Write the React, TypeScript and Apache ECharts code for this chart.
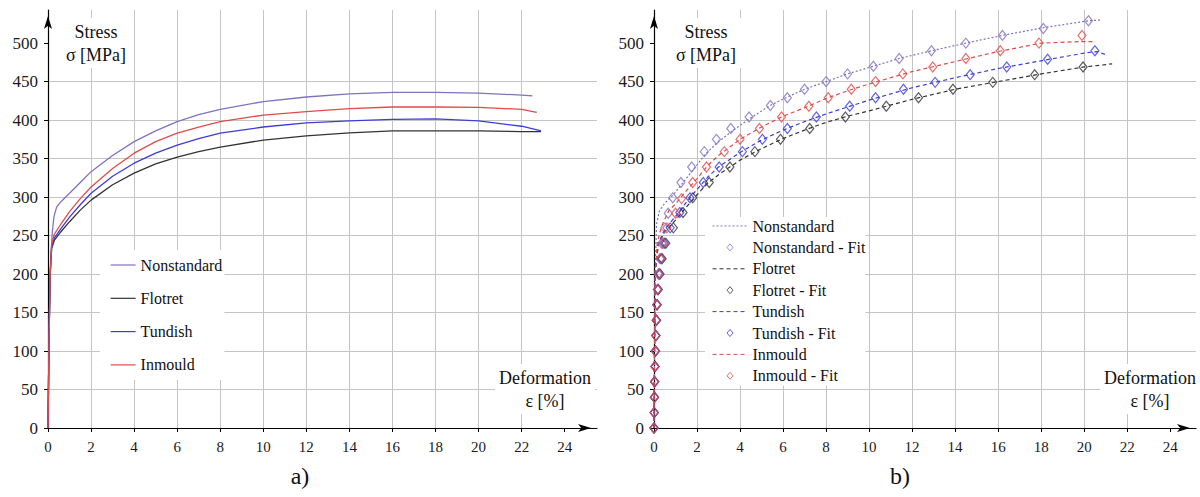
import React, { useEffect, useRef } from 'react';
import * as echarts from 'echarts';

// ---- tick labels ----
const xTicks = [0, 2, 4, 6, 8, 10, 12, 14, 16, 18, 20, 22, 24];
const yTicks = [0, 50, 100, 150, 200, 250, 300, 350, 400, 450, 500];

// ---- a) measured curves ----
const nsStrainA = [0, 0.05, 0.12, 0.2, 0.28, 0.4, 0.6, 1, 1.5, 2, 3, 4, 5, 6, 7, 8, 10, 12, 14, 16, 18, 20, 22, 22.5];
const nsStressA = [0, 120, 215, 255, 275, 287, 294, 305, 319, 333, 354, 372, 386, 398, 407, 414, 424, 430, 434, 436, 436, 435, 432.5, 431.5];
const flStrainA = [0, 0.05, 0.1, 0.17, 0.3, 0.6, 1, 1.5, 2, 3, 4, 5, 6, 7, 8, 10, 12, 14, 16, 18, 20, 22, 22.9];
const flStressA = [0, 120, 200, 233, 244, 255, 268, 283, 296, 316, 331, 343, 352, 359, 365, 374, 379.5, 383.5, 386, 386, 386, 385, 385];
const tdStrainA = [0, 0.05, 0.1, 0.17, 0.3, 0.6, 1, 1.5, 2, 3, 4, 5, 6, 7, 8, 10, 12, 14, 16, 18, 20, 22, 22.9];
const tdStressA = [0, 120, 200, 235, 247, 259, 274, 290, 305, 327, 344, 357, 367.5, 376, 383, 391, 396.5, 399, 401, 401.5, 399, 392, 386];
const imStrainA = [0, 0.05, 0.1, 0.17, 0.3, 0.6, 1, 1.5, 2, 3, 4, 5, 6, 7, 8, 10, 12, 14, 16, 18, 20, 22, 22.7];
const imStressA = [0, 120, 200, 240, 252, 265, 281, 298, 313, 337, 357, 372, 383, 391, 398, 406.5, 411, 415, 417, 417, 416.5, 414, 410];

// ---- b) measured curves ----
const nsStrainB = [0, 0.05, 0.12, 0.25, 0.5, 0.9, 1.3, 1.75, 2.4, 3, 3.7, 4.45, 5.4, 6.2, 7, 8, 9, 10.2, 11.4, 12.9, 14.5, 16.2, 18.1, 20.2, 20.8];
const nsStressB = [0, 200, 265, 282, 292, 303, 317, 333, 356, 372, 387, 402, 419, 430, 440, 450, 460, 470, 480, 490, 500, 510, 520, 529, 530];
const flStrainB = [0, 0.05, 0.2, 0.5, 1, 1.5, 2, 2.5, 3, 4, 5, 6, 7, 8, 9, 10, 12, 14, 16, 18, 20, 21.3];
const flStressB = [0, 200, 238, 255, 270, 287, 303, 318, 329, 348, 363, 376, 387, 397, 405, 412, 427, 440, 450, 460, 469, 473];
const tdStrainB = [0, 0.05, 0.2, 0.5, 1, 1.5, 2, 2.5, 3, 4, 5, 6, 7, 8, 9, 10, 12, 14, 16, 18, 20, 20.6, 21.1];
const tdStressB = [0, 200, 240, 258, 275, 293, 310, 326, 339, 358, 374, 387, 398, 408, 417, 426, 442, 455, 467, 477, 487, 489, 484];
const imStrainB = [0, 0.05, 0.15, 0.35, 0.7, 1, 1.5, 2, 2.5, 3, 4, 5, 6, 7, 8, 9, 10, 12, 14, 16, 18, 19.9, 20.4];
const imStressB = [0, 200, 240, 262, 283, 291, 308, 324, 341, 354, 375, 391, 405, 416, 428, 438, 447, 463, 476, 489, 500, 502, 502];

// ---- b) fit points ----
const nsFitStrain = [0, 0.01, 0.02, 0.03, 0.04, 0.06, 0.08, 0.1, 0.12, 0.15, 0.2, 0.28, 0.36, 0.5, 0.66, 0.87, 1.25, 1.75, 2.34, 2.9, 3.57, 4.42, 5.41, 6.2, 7.0, 8.0, 9.0, 10.2, 11.4, 12.9, 14.5, 16.2, 18.1, 20.2];
const nsFitStress = [0, 20, 40, 60, 80, 100, 120, 140, 160, 180, 200, 220, 240, 260, 279, 299, 319, 339, 359, 375, 389, 404, 419, 429, 440, 450, 460, 470, 480, 490, 500, 510, 519, 529];
const flFitStrain = [0, 0.01, 0.02, 0.03, 0.05, 0.07, 0.09, 0.12, 0.15, 0.2, 0.28, 0.38, 0.55, 0.9, 1.35, 1.8, 2.57, 3.53, 4.69, 5.88, 7.24, 8.9, 10.8, 12.3, 13.9, 15.75, 17.7, 19.95];
const flFitStress = [0, 20, 40, 60, 80, 100, 120, 140, 160, 180, 200, 220, 240, 260, 280, 299, 319, 339, 359, 375, 389, 404, 418, 429, 440, 449, 459, 469];
const tdFitStrain = [0, 0.01, 0.02, 0.03, 0.05, 0.07, 0.09, 0.11, 0.14, 0.19, 0.26, 0.34, 0.48, 0.75, 1.2, 1.67, 2.29, 3.03, 4.11, 5.04, 6.2, 7.55, 9.1, 10.3, 11.6, 13.07, 14.7, 16.4, 18.3, 20.5];
const tdFitStress = [0, 20, 40, 60, 80, 100, 120, 140, 160, 180, 200, 220, 240, 260, 280, 299, 319, 339, 359, 375, 389, 404, 418, 429, 440, 449, 459, 469, 479, 490];
const imFitStrain = [0, 0.01, 0.02, 0.03, 0.04, 0.06, 0.08, 0.1, 0.13, 0.17, 0.23, 0.3, 0.42, 0.6, 1.0, 1.28, 1.8, 2.44, 3.27, 4.0, 4.9, 5.93, 7.2, 8.1, 9.17, 10.3, 11.57, 12.96, 14.5, 16.1, 17.9, 19.9];
const imFitStress = [0, 20, 40, 60, 80, 100, 120, 140, 160, 180, 200, 220, 240, 260, 279, 298, 319, 339, 359, 375, 389, 404, 418, 429, 440, 450, 460, 469, 480, 490, 500, 510];

const seriesNames = ['Nonstandard', 'Flotret', 'Tundish', 'Inmould'];

const C_NS = '#8270c2';
const C_FL = '#333333';
const C_TD = '#3c3cd8';
const C_IM = '#e24a4a';
const GRID = '#c4c4c4';
const SERIF = 'Liberation Serif';

const zip = (xs: number[], ys: number[]) => xs.map((x, i) => [x, ys[i]]);

function makeAxes(gi: number, xMax: number) {
  const x = {
    type: 'value', gridIndex: gi, min: 0, max: xMax, interval: 2,
    axisLine: { show: true, onZero: false, lineStyle: { color: '#000', width: 1.2 }, symbol: ['none', 'arrow'], symbolSize: [6, 13], symbolOffset: [0, -6] },
    axisTick: { show: true, length: 4, lineStyle: { color: '#000' }, customValues: xTicks },
    axisLabel: { customValues: xTicks, margin: 11, fontFamily: SERIF, fontSize: 15, color: '#1a1a1a' },
    splitLine: { show: true, showMaxLine: false, lineStyle: { color: GRID, width: 1 } },
  };
  const y = {
    type: 'value', gridIndex: gi, min: 0, max: 543, interval: 50,
    axisLine: { show: true, onZero: false, lineStyle: { color: '#000', width: 1.2 }, symbol: ['none', 'arrow'], symbolSize: [6, 13], symbolOffset: [0, -6] },
    axisTick: { show: true, length: 4, lineStyle: { color: '#000' }, customValues: yTicks },
    axisLabel: { customValues: yTicks, margin: 10, fontFamily: SERIF, fontSize: 17, color: '#1a1a1a' },
    splitLine: { show: true, showMaxLine: false, lineStyle: { color: GRID, width: 1 } },
  };
  return { x, y };
}

export default function App() {
  const ref = useRef<HTMLDivElement>(null);
  useEffect(() => {
    if (!ref.current) return;
    const chart = echarts.init(ref.current, undefined, { renderer: 'svg' });
    const a = makeAxes(0, 25.5);
    const b = makeAxes(1, 25.2);

    const lineA = (name: string, xs: number[], ys: number[], color: string) => ({
      type: 'line', name, xAxisIndex: 0, yAxisIndex: 0, data: zip(xs, ys),
      symbol: 'none', showSymbol: false, silent: true, z: 3,
      lineStyle: { color, width: 1.3 }, itemStyle: { color },
    });
    const lineB = (name: string, xs: number[], ys: number[], color: string, dash: number[]) => ({
      type: 'line', name: 'b:' + name, xAxisIndex: 1, yAxisIndex: 1, data: zip(xs, ys),
      symbol: 'none', showSymbol: false, silent: true, z: 3,
      lineStyle: { color, width: 1.2, type: dash }, itemStyle: { color },
    });
    const fitB = (name: string, xs: number[], ys: number[], color: string) => ({
      type: 'scatter', name: 'b:' + name + ' - Fit', xAxisIndex: 1, yAxisIndex: 1, data: zip(xs, ys),
      symbol: 'diamond', symbolSize: [8, 10], silent: true, z: 4,
      itemStyle: { color: 'rgba(255,255,255,0)', borderColor: color, borderWidth: 1.2 },
    });

    const colors = [C_NS, C_FL, C_TD, C_IM];
    const dashes = [[2, 2], [4, 3], [4, 3], [4, 3]];
    const diamondIcon = 'path://M0 0M35 14M17.5 3.5L20.5 7L17.5 10.5L14.5 7Z';

    const legendText = { fontFamily: SERIF, fontSize: 16, color: '#111' };

    const textEl = (text: string, x: number, y: number, size: number, bg: boolean, pad: number[]) => ({
      type: 'text', x, y, z: 100,
      style: {
        text, fontFamily: SERIF, fontSize: size, fill: '#111',
        align: 'center', textAlign: 'center', verticalAlign: 'top', textVerticalAlign: 'top',
        lineHeight: 23,
        backgroundColor: bg ? '#fff' : undefined, padding: pad,
      },
    });

    chart.setOption({
      animation: false,
      textStyle: { fontFamily: SERIF },
      grid: [
        { left: 48, top: 10, width: 549, height: 418 },
        { left: 654, top: 10, width: 542, height: 418 },
      ],
      xAxis: [a.x, b.x],
      yAxis: [a.y, b.y],
      legend: [
        {
          orient: 'vertical', left: 100, top: 250, padding: [7, 2, 7, 10],
          itemWidth: 25, itemHeight: 14, itemGap: 17.3, backgroundColor: '#fff',
          selectedMode: false, textStyle: legendText,
          data: seriesNames.map((n) => ({ name: n, itemStyle: { opacity: 0 }, lineStyle: { width: 1.2, type: 'solid' } })),
        },
        {
          orient: 'vertical', left: 705, top: 217, padding: [1, 0, 2, 7],
          itemWidth: 35, itemHeight: 14, itemGap: 5.4, backgroundColor: '#fff',
          selectedMode: false, textStyle: legendText,
          formatter: (n: string) => n.replace('b:', ''),
          data: seriesNames.flatMap((n, i) => [
            { name: 'b:' + n, itemStyle: { opacity: 0 }, lineStyle: { width: 1, type: dashes[i] } },
            { name: 'b:' + n + ' - Fit', icon: diamondIcon, itemStyle: { color: '#fff', borderColor: colors[i], borderWidth: 1 } },
          ]),
        },
      ],
      series: [
        lineA('Nonstandard', nsStrainA, nsStressA, C_NS),
        lineA('Flotret', flStrainA, flStressA, C_FL),
        lineA('Tundish', tdStrainA, tdStressA, C_TD),
        lineA('Inmould', imStrainA, imStressA, C_IM),
        lineB('Nonstandard', nsStrainB, nsStressB, C_NS, dashes[0]),
        fitB('Nonstandard', nsFitStrain, nsFitStress, C_NS),
        lineB('Flotret', flStrainB, flStressB, C_FL, dashes[1]),
        fitB('Flotret', flFitStrain, flFitStress, C_FL),
        lineB('Tundish', tdStrainB, tdStressB, C_TD, dashes[2]),
        fitB('Tundish', tdFitStrain, tdFitStress, C_TD),
        lineB('Inmould', imStrainB, imStressB, C_IM, dashes[3]),
        fitB('Inmould', imFitStrain, imFitStress, C_IM),
      ],
      graphic: [
        textEl('Stress\nσ [MPa]', 96, 18, 18, true, [2, 8, 2, 8]),
        textEl('Stress\nσ [MPa]', 706, 18, 18, true, [2, 8, 2, 8]),
        textEl('Deformation\nε [%]', 545, 364, 18, true, [2, 4, 2, 4]),
        textEl('Deformation\nε [%]', 1150, 364, 18, true, [2, 4, 2, 4]),
        textEl('a)', 300, 464, 24, false, [0, 0, 0, 0]),
        textEl('b)', 900, 464, 24, false, [0, 0, 0, 0]),
      ],
    });
    return () => chart.dispose();
  }, []);
  return <div ref={ref} style={{ position: 'absolute', left: 0, top: 0, width: 1200, height: 497, background: '#fff' }} />;
}
